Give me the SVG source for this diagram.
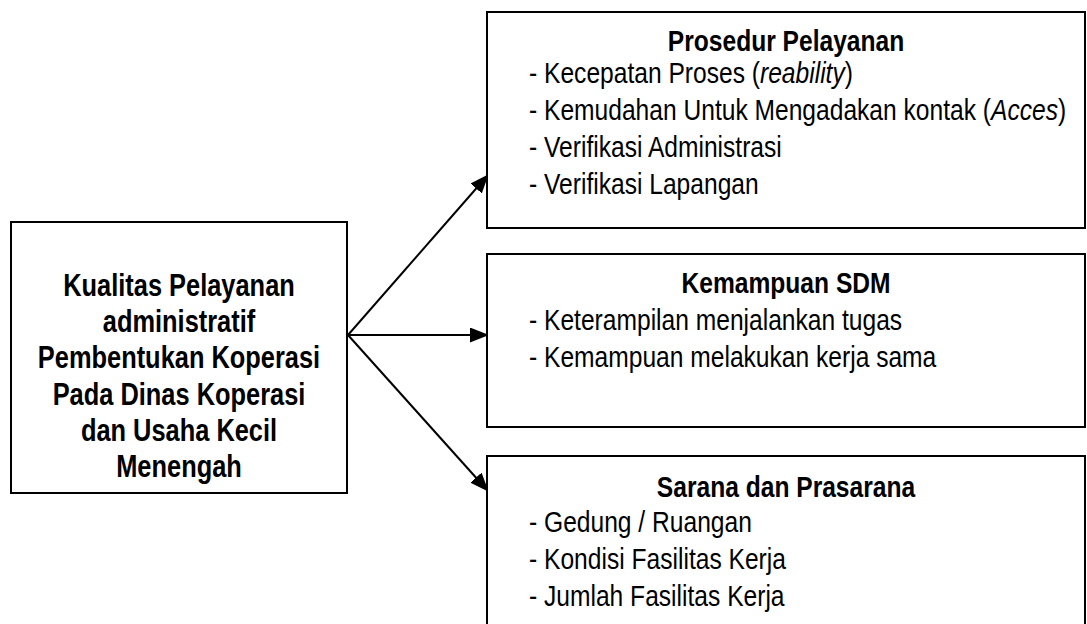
<svg xmlns="http://www.w3.org/2000/svg" width="1087" height="624" viewBox="0 0 1087 624">
<defs>
<style>
.box{fill:#fff;stroke:#000;stroke-width:2}
.t{font-family:"Liberation Sans",Arial,sans-serif;fill:#000}
.lb{font-size:31px;font-weight:bold;text-anchor:middle}
.hd{font-size:30px;font-weight:bold;text-anchor:middle}
.it{font-size:30px}
.con{stroke:#000;stroke-width:2;fill:none;marker-end:url(#ah)}
</style>
<marker id="ah" markerUnits="userSpaceOnUse" markerWidth="19" markerHeight="15" refX="18" refY="7.5" orient="auto">
<path d="M0,0 L19,7.5 L0,15 z" fill="#000"/>
</marker>
</defs>
<rect width="1087" height="624" fill="#fff"/>
<g id="connectors">
<line class="con" x1="348" y1="335" x2="488" y2="175"/>
<line class="con" x1="348" y1="335" x2="488" y2="335"/>
<line class="con" x1="348" y1="335" x2="488" y2="491"/>
</g>
<g id="node-kualitas">
<rect class="box" x="11" y="222" width="336" height="271"/>
<g class="t lb">
<text transform="translate(179,296) scale(0.82,1)">Kualitas Pelayanan</text>
<text transform="translate(179,332) scale(0.82,1)">administratif</text>
<text transform="translate(179,368) scale(0.82,1)">Pembentukan Koperasi</text>
<text transform="translate(179,405) scale(0.82,1)">Pada Dinas Koperasi</text>
<text transform="translate(179,441) scale(0.82,1)">dan Usaha Kecil</text>
<text transform="translate(179,477) scale(0.82,1)">Menengah</text>
</g>
</g>
<g id="node-prosedur">
<rect class="box" x="487" y="12" width="598" height="216"/>
<text class="t hd" transform="translate(786,51) scale(0.82,1)">Prosedur Pelayanan</text>
<g class="t it">
<text transform="translate(529,83) scale(0.82,1)">- Kecepatan Proses (<tspan font-style="italic">reability</tspan>)</text>
<text transform="translate(529,120) scale(0.82,1)">- Kemudahan Untuk Mengadakan kontak (<tspan font-style="italic">Acces</tspan>)</text>
<text transform="translate(529,157) scale(0.82,1)">- Verifikasi Administrasi</text>
<text transform="translate(529,194) scale(0.82,1)">- Verifikasi Lapangan</text>
</g>
</g>
<g id="node-sdm">
<rect class="box" x="487" y="254" width="598" height="173"/>
<text class="t hd" transform="translate(786,293) scale(0.82,1)">Kemampuan SDM</text>
<g class="t it">
<text transform="translate(529,330) scale(0.82,1)">- Keterampilan menjalankan tugas</text>
<text transform="translate(529,367) scale(0.82,1)">- Kemampuan melakukan kerja sama</text>
</g>
</g>
<g id="node-sarana">
<rect class="box" x="487" y="456" width="598" height="200"/>
<text class="t hd" transform="translate(786,497) scale(0.82,1)">Sarana dan Prasarana</text>
<g class="t it">
<text transform="translate(529,532) scale(0.82,1)">- Gedung / Ruangan</text>
<text transform="translate(529,569) scale(0.82,1)">- Kondisi Fasilitas Kerja</text>
<text transform="translate(529,606) scale(0.82,1)">- Jumlah Fasilitas Kerja</text>
</g>
</g>
</svg>
